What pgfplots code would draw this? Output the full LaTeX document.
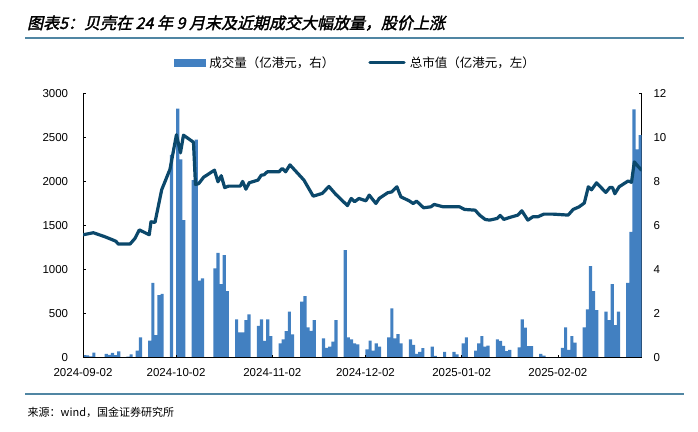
\documentclass[border=0pt]{standalone}
\usepackage{pgfplots}
\pgfplotsset{compat=1.18}
\usepackage{pgfplotstable}
\usepackage{fontspec}
\setmainfont{Liberation Sans}
\newfontfamily\cjk{Noto Sans CJK SC}
\newfontfamily\cjktitle[FakeSlant=0.22,FakeBold=2]{Noto Sans CJK SC}
\definecolor{barcol}{RGB}{66,128,193}
\definecolor{linecol}{RGB}{11,72,107}
\definecolor{rulecol}{RGB}{80,134,163}

\pgfplotstableread{
x y
0.5 0.12
1.5 0.10
2.5 0.06
3.5 0.23
4.5 0.02
7.5 0.17
8.5 0.13
9.5 0.22
10.5 0.12
11.5 0.29
14.5 0.05
15.5 0.15
17.5 0.32
18.5 0.92
21.5 0.77
22.5 3.40
23.5 1.03
24.5 2.84
25.5 2.90
28.5 9.20
30.5 11.30
31.5 9.00
32.5 6.24
35.5 8.06
36.5 9.90
37.5 3.50
38.5 3.60
42.5 4.05
43.5 4.76
44.5 3.34
45.5 4.66
46.5 3.02
49.5 1.74
50.5 1.15
51.5 1.15
52.5 1.70
53.5 1.97
56.5 1.44
57.5 1.74
58.5 0.76
59.5 1.74
60.5 0.98
63.5 0.65
64.5 0.83
65.5 1.21
66.5 2.09
67.5 1.06
70.5 2.54
71.5 2.80
72.5 1.38
73.5 1.22
74.5 1.71
77.5 0.88
78.5 0.45
79.5 0.50
80.5 0.73
81.5 1.71
84.5 4.88
85.5 0.92
86.5 0.83
87.5 0.65
88.5 0.61
91.5 0.38
92.5 0.77
93.5 0.32
94.5 0.65
95.5 0.50
98.5 0.92
99.5 2.24
100.5 0.88
101.5 1.07
102.5 0.65
105.5 0.83
106.5 0.58
107.5 0.17
108.5 0.27
109.5 0.43
112.5 0.50
113.5 0.08
116.5 0.27
119.5 0.27
120.5 0.15
122.5 0.65
123.5 0.92
126.5 0.32
127.5 0.65
128.5 0.98
129.5 0.50
130.5 0.55
133.5 0.83
134.5 0.76
135.5 0.54
136.5 0.30
137.5 0.35
140.5 0.47
141.5 1.74
142.5 1.36
143.5 0.53
144.5 0.53
147.5 0.17
148.5 0.09
154.5 0.45
155.5 1.38
156.5 0.35
157.5 0.98
158.5 0.68
161.5 1.38
162.5 2.19
163.5 4.16
164.5 3.02
165.5 2.16
168.5 2.09
169.5 1.71
170.5 3.34
171.5 1.48
172.5 2.09
175.5 3.40
176.5 5.71
177.5 11.27
178.5 9.45
179.5 10.10
}\bardata

\pgfplotstableread{
x y
0.10 1395
3.32 1418
7.09 1372
9.76 1334
10.63 1320
11.37 1289
15.14 1289
16.75 1354
18.13 1450
21.35 1395
21.90 1542
23.19 1535
25.35 1905
28.02 2138
30.11 2530
31.40 2324
32.37 2525
35.59 2445
36.23 1966
37.26 1975
38.87 2048
42.35 2128
43.48 1996
44.54 2065
45.64 1930
46.92 1947
50.66 1947
51.43 2000
52.50 1912
53.56 1985
56.36 2015
57.42 2071
58.29 2075
59.36 2109
63.12 2109
64.19 2147
65.28 2109
66.67 2188
71.18 2015
74.17 1833
77.07 1864
79.23 1943
81.38 1856
85.19 1726
86.41 1807
87.50 1770
88.89 1807
91.14 1780
92.21 1845
94.36 1750
95.43 1807
98.13 1871
99.52 1882
101.13 1939
102.42 1825
105.09 1780
106.38 1750
107.47 1776
109.73 1701
112.08 1712
113.14 1739
116.04 1712
121.32 1712
122.93 1682
126.34 1674
127.76 1618
129.57 1569
130.98 1561
133.43 1580
134.40 1614
135.59 1569
137.42 1591
140.10 1618
141.38 1667
143.32 1561
144.93 1599
146.54 1599
148.47 1629
151.47 1629
156.30 1618
157.91 1682
159.84 1712
161.51 1755
162.80 1939
163.83 1905
165.44 1984
168.44 1875
169.73 1931
170.60 1931
171.34 1860
172.72 1939
175.62 2005
176.71 1990
177.62 2222
178.84 2170
179.94 2128
}\capdata

\pgfplotsset{
  common/.style={
    scale only axis, width=558.7pt, height=264.4pt,
    at={(83pt,73.3pt)}, anchor=south west,
    xmin=0, xmax=180,
    axis line style={black, line width=0.8pt},
    tick style={black, line width=0.6pt},
    major tick length=3pt, tick align=inside,
    scaled y ticks=false,
    /pgf/number format/assume math mode=true,
    /pgf/number format/1000 sep={},
    tick label style={font=\fontsize{11.5}{13}\selectfont, inner sep=0pt},
  }
}

\begin{document}
\begin{tikzpicture}
\path (0pt,0pt) rectangle (698pt,431pt);
\node[anchor=west, inner sep=0pt, font={\cjktitle\fontsize{16}{18}\selectfont}] at (27pt,408pt) {图表5：贝壳在 24 年 9 月末及近期成交大幅放量，股价上涨};
\draw[rulecol, line width=1.8pt] (25pt,393.3pt) -- (684pt,393.3pt);
\draw[rulecol, line width=1.8pt] (25pt,36.7pt) -- (684pt,36.7pt);
\node[anchor=west, inner sep=0pt, font={\cjk\fontsize{11}{13}\selectfont}] at (27.5pt,19pt) {来源：wind，国金证券研究所};

\begin{axis}[common,
  axis x line=none, axis y line*=right,
  ymin=0, ymax=12, ytick={0,2,...,12},
  yticklabel style={anchor=west, xshift=11.6pt},
]
\addplot[ybar, bar width=1.02, fill=barcol, draw=none] table[x=x,y=y] {\bardata};
\end{axis}

\begin{axis}[common,
  axis x line*=bottom, axis y line*=left,
  ymin=0, ymax=3000, ytick={0,500,...,3000},
  yticklabel style={anchor=east, xshift=-14.7pt},
  xtick={0,30,61,91,122,153},
  xticklabels={2024-09-02,2024-10-02,2024-11-02,2024-12-02,2025-01-02,2025-02-02},
  xticklabel style={anchor=north, yshift=-11pt},
  legend columns=2,
  legend style={at={(0.4856,1.1157)}, anchor=center, draw=none, fill=none,
    font={\cjk\fontsize{12.5}{14}\selectfont},
    nodes={inner sep=0pt},
    /tikz/every odd column/.append style={column sep=4pt},
    /tikz/every even column/.append style={column sep=34pt}},
]
\addlegendimage{legend image code/.code={\fill[barcol] (0pt,-3.8pt) rectangle (31pt,3.8pt);}}
\addlegendentry{成交量（亿港元，右）}
\addplot[linecol, line width=3.2pt, line join=round, line cap=round,
  legend image code/.code={\draw[linecol, line width=3.5pt] (0pt,0pt) -- (34pt,0pt);}] table[x=x,y=y] {\capdata};
\addlegendentry{总市值（亿港元，左）}
\end{axis}
\end{tikzpicture}
\end{document}
